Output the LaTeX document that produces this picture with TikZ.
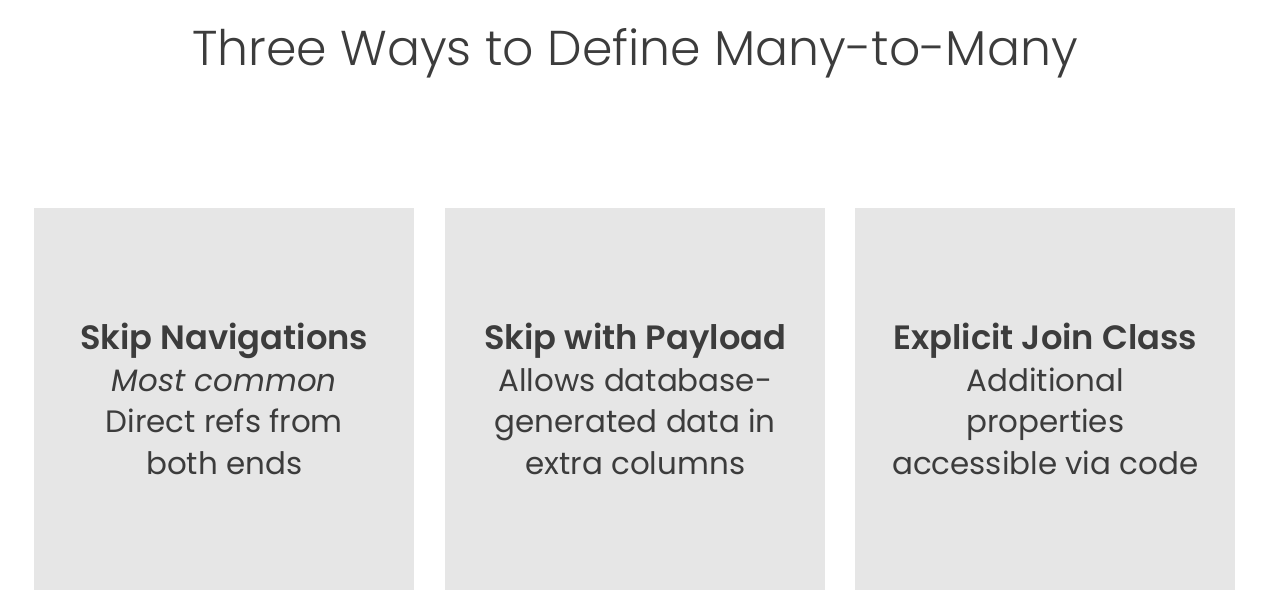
\documentclass[tikz,border=0pt]{standalone}
\usepackage{fontspec}
\setmainfont{Poppins}[BoldFont={* SemiBold}, Ligatures=NoCommon]
\newfontfamily\titlefont{Poppins Light}[Ligatures=NoCommon]
\definecolor{boxgray}{HTML}{E6E6E6}
\definecolor{txt}{HTML}{3C3C3C}
\newcommand{\cardhead}[1]{{\fontsize{25.3}{31.5}\selectfont\bfseries #1}}
\tikzset{
  card/.style={fill=boxgray, draw=none, minimum width=380*0.75pt, minimum height=382*0.75pt, inner sep=0pt, anchor=north west},
  cardtext/.style={text=txt, align=center, font=\fontsize{23.2}{31.3}\selectfont},
  title/.style={text=txt, font=\titlefont\fontsize{36.7}{46}\selectfont}
}
\begin{document}
\begin{tikzpicture}[x=0.75pt,y=-0.75pt]
\useasboundingbox (0,0) rectangle (1270,616);
\node[title] (t) at (635,53) {Three Ways to Define Many-to-Many};
\node[card] (b1) at (34,208) {};
\node[card] (b2) at (445,208) {};
\node[card] (b3) at (855,208) {};
\node[cardtext] (l1) at ([yshift=0.2pt]b1.center) {\cardhead{Skip Navigations}\\\textit{Most common}\\Direct refs from\\both ends};
\node[cardtext] (l2) at ([yshift=0.2pt]b2.center) {\cardhead{Skip with Payload}\\Allows database-\\generated data in\\extra columns};
\node[cardtext] (l3) at ([yshift=0.2pt]b3.center) {\cardhead{Explicit Join Class}\\Additional\\properties\\accessible via code};
\end{tikzpicture}
\end{document}
